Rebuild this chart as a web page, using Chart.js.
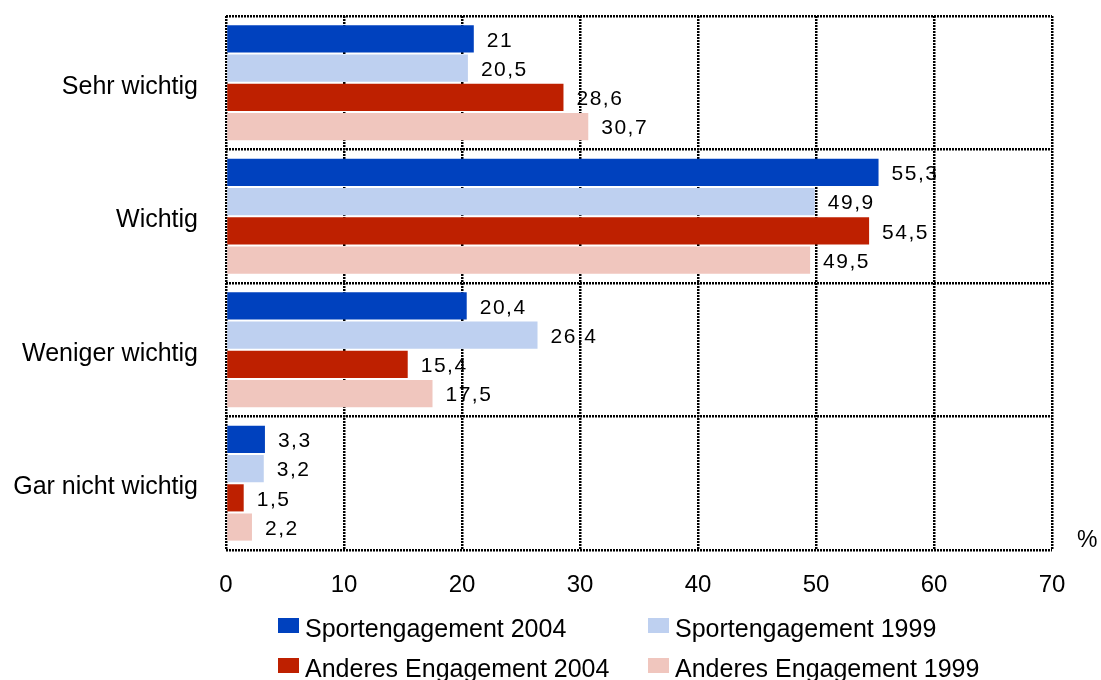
<!DOCTYPE html>
<html>
<head>
<meta charset="utf-8">
<script src="https://cdn.jsdelivr.net/npm/chart.js@4/dist/chart.umd.min.js"></script>
<style>
  body { margin: 0; background: #fff; }
  #wrap { width: 1101px; height: 680px; }
</style>
</head>
<body>
<div id="wrap"><canvas id="mycanvas" width="1101" height="680"></canvas></div>
<script>
var categories = ['Sehr wichtig', 'Wichtig', 'Weniger wichtig', 'Gar nicht wichtig'];
var seriesNames = ['Sportengagement 2004', 'Sportengagement 1999', 'Anderes Engagement 2004', 'Anderes Engagement 1999'];
var sport2004 = [21, 55.3, 20.4, 3.3];
var sport1999 = [20.5, 49.9, 26.4, 3.2];
var anderes2004 = [28.6, 54.5, 15.4, 1.5];
var anderes1999 = [30.7, 49.5, 17.5, 2.2];
var colors = ['rgb(0,65,190)', 'rgb(190,208,240)', 'rgb(190,32,0)', 'rgb(240,198,190)'];
var xTicks = [0, 10, 20, 30, 40, 50, 60, 70];

var FONT = '"Liberation Sans", Arial, sans-serif';
var allData = [sport2004, sport1999, anderes2004, anderes1999];

var datasets = [];
for (var i = 0; i < allData.length; i++) {
  datasets.push({
    label: seriesNames[i],
    data: allData[i],
    backgroundColor: colors[i],
    borderWidth: 0,
    categoryPercentage: 0.875,
    barPercentage: 0.93
  });
}

// value labels, "%" and legend
var extras = {
  id: 'extras',
  afterDatasetsDraw: function(chart) {
    var ctx = chart.ctx;
    ctx.save();
    ctx.fillStyle = '#000';
    ctx.font = '21px ' + FONT;
    ctx.letterSpacing = '1.5px';
    ctx.textAlign = 'left';
    ctx.textBaseline = 'middle';
    chart.data.datasets.forEach(function(ds, di) {
      var meta = chart.getDatasetMeta(di);
      meta.data.forEach(function(bar, j) {
        var txt = String(ds.data[j]).replace('.', ',');
        ctx.fillText(txt, bar.x + 13, bar.y + 2);
      });
    });
    ctx.restore();
  },
  afterDraw: function(chart) {
    var ctx = chart.ctx;
    ctx.save();
    ctx.fillStyle = '#000';
    ctx.textBaseline = 'middle';
    ctx.textAlign = 'left';
    ctx.font = '23px ' + FONT;
    ctx.fillText('%', 1077, 541);

    // legend, 2 x 2
    var pos = [[278, 618], [648, 618], [278, 658], [648, 658]];
    ctx.font = '25px ' + FONT;
    for (var k = 0; k < seriesNames.length; k++) {
      ctx.fillStyle = colors[k];
      ctx.fillRect(pos[k][0], pos[k][1], 21, 15);
      ctx.fillStyle = '#000';
      ctx.fillText(seriesNames[k], pos[k][0] + 27, pos[k][1] + 12);
    }
    ctx.restore();
  }
};

var ctx = document.getElementById('mycanvas');
var barGraph = new Chart(ctx, {
  type: 'bar',
  data: { labels: categories, datasets: datasets },
  options: {
    indexAxis: 'y',
    responsive: false,
    animation: false,
    layout: { padding: { left: 0, top: 16, right: 49, bottom: 80 } },
    plugins: {
      legend: { display: false },
      tooltip: { enabled: false }
    },
    scales: {
      x: {
        min: 0,
        max: 70,
        afterFit: function(scale) {
          scale.height = 50;
          scale.paddingLeft = 0;
          scale.paddingRight = 0;
        },
        afterBuildTicks: function(scale) {
          scale.ticks = xTicks.map(function(v) { return { value: v }; });
        },
        ticks: { color: '#000', font: { family: FONT, size: 24 }, padding: 21 },
        grid: { color: '#000', lineWidth: 2.5, drawTicks: false },
        border: { display: false, dash: [2, 1] }
      },
      y: {
        afterFit: function(scale) {
          scale.width = 226;
          scale.paddingTop = 0;
          scale.paddingBottom = 0;
        },
        ticks: { color: '#000', font: { family: FONT, size: 25 }, padding: 28, labelOffset: 4 },
        grid: { color: '#000', lineWidth: 2.5, drawTicks: false, offset: true },
        border: { display: false, dash: [2, 1] }
      }
    }
  },
  plugins: [extras]
});
</script>
</body>
</html>
